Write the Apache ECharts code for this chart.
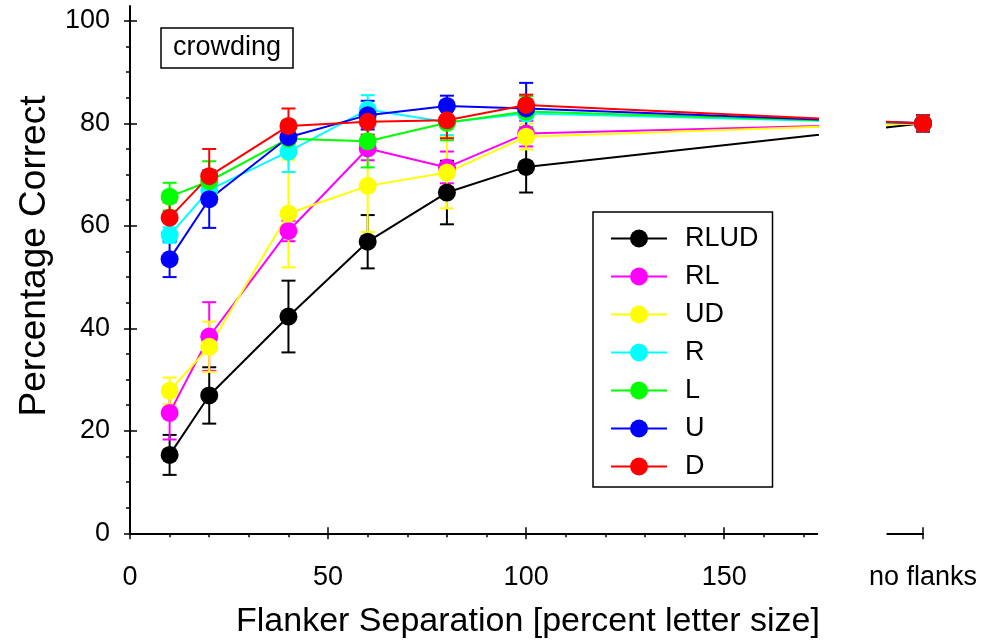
<!DOCTYPE html>
<html>
<head>
<meta charset="utf-8">
<script src="https://cdn.jsdelivr.net/npm/echarts@6/dist/echarts.min.js"></script>
<style>
  html, body { margin: 0; padding: 0; background: #fff; }
  #chart { width: 986px; height: 643px; }
</style>
</head>
<body>
<div id="chart"></div>
<script>
// Flanker separations (percent of letter size); 200 stands for the "no flanks" condition
const separations = [10, 20, 40, 60, 80, 100, 200];

// Percentage correct and error bar half-lengths per flanker configuration
const rlud    = [15.3, 26.9, 42.3, 56.9, 66.5, 71.5, 80.0];
const rludErr = [3.9, 5.5, 7.0, 5.2, 6.2, 5.0, 1.6];
const rl      = [23.5, 38.4, 59.0, 75.1, 71.4, 78.0, 80.0];
const rlErr   = [5.2, 6.7, 2.0, 2.3, 3.1, 2.5, 1.6];
const ud      = [27.8, 36.4, 62.4, 67.8, 70.4, 77.4, 80.0];
const udErr   = [2.6, 4.9, 10.5, 9.0, 7.0, 2.5, 1.6];
const rOnly   = [58.2, 67.0, 74.5, 82.7, 80.2, 81.9, 80.0];
const rErr    = [1.5, 2.5, 4.0, 2.8, 2.5, 3.6, 1.6];
const lOnly   = [65.7, 68.7, 77.0, 76.5, 80.1, 82.3, 80.0];
const lErr    = [2.7, 3.9, 3.0, 5.1, 3.4, 3.0, 1.6];
const uOnly   = [53.5, 65.2, 77.3, 81.6, 83.4, 82.9, 80.0];
const uErr    = [3.5, 5.6, 3.1, 2.8, 2.0, 5.0, 1.6];
const dOnly   = [61.6, 69.7, 79.5, 80.3, 80.6, 83.6, 80.0];
const dErr    = [3.0, 5.3, 3.4, 2.5, 3.5, 2.0, 1.6];

// Axis ticks and labels
const xMajorTicks = [0, 50, 100, 150];
const xMinorTicks = [10, 20, 30, 40, 60, 70, 80, 90, 110, 120, 130, 140, 160, 170];
const yMajorTicks = [0, 20, 40, 60, 80, 100];
const yMinorTicks = [5, 10, 15, 25, 30, 35, 45, 50, 55, 65, 70, 75, 85, 90, 95];
const noFlanksTick = [200];
const noFlanksLabel = 'no flanks';
const xTitle = 'Flanker Separation [percent letter size]';
const yTitle = 'Percentage Correct';
const panelLabel = 'crowding';

const conditions = [
  { name: 'RLUD', color: '#000000', values: rlud,  errors: rludErr },
  { name: 'RL',   color: '#ff00ff', values: rl,    errors: rlErr },
  { name: 'UD',   color: '#ffff00', values: ud,    errors: udErr },
  { name: 'R',    color: '#00ffff', values: rOnly, errors: rErr },
  { name: 'L',    color: '#00ff00', values: lOnly, errors: lErr },
  { name: 'U',    color: '#0000ff', values: uOnly, errors: uErr },
  { name: 'D',    color: '#ff0000', values: dOnly, errors: dErr }
];

const FONT = '"Liberation Sans", Arial, Helvetica, sans-serif';
const MAIN_MAX = 173.5;   // right end of the continuous part of the x axis
const BREAK_MIN = 191;    // left end of the short "no flanks" segment
const Y_MAX = 102.9;

const chart = echarts.init(document.getElementById('chart'), null, { renderer: 'canvas' });

function errorBars(color, lo, hi) {
  return function (params, api) {
    const x = api.value(0);
    if (x < lo || x > hi) return null;
    const y = api.value(1);
    const e = api.value(2);
    const top = api.coord([x, y + e]);
    const bot = api.coord([x, y - e]);
    const half = 7;
    const style = { stroke: color, lineWidth: 2 };
    return {
      type: 'group',
      children: [
        { type: 'line', shape: { x1: top[0], y1: top[1], x2: bot[0], y2: bot[1] }, style: style },
        { type: 'line', shape: { x1: top[0] - half, y1: top[1], x2: top[0] + half, y2: top[1] }, style: style },
        { type: 'line', shape: { x1: bot[0] - half, y1: bot[1], x2: bot[0] + half, y2: bot[1] }, style: style }
      ]
    };
  };
}

const series = [];
// error bars underneath all lines and markers
conditions.forEach(function (c) {
  const data = separations.map(function (s, i) { return [s, c.values[i], c.errors[i]]; });
  series.push({
    type: 'custom', name: c.name + ' error', xAxisIndex: 0, yAxisIndex: 0, z: 1,
    renderItem: errorBars(c.color, 0, MAIN_MAX), data: data, silent: true
  });
  series.push({
    type: 'custom', name: c.name + ' error', xAxisIndex: 3, yAxisIndex: 3, z: 1,
    renderItem: errorBars(c.color, BREAK_MIN, 200), data: data, silent: true
  });
});
// lines with filled circle markers, drawn on both parts of the broken axis
conditions.forEach(function (c) {
  const data = separations.map(function (s, i) { return [s, c.values[i]]; });
  [[0, 0], [3, 3]].forEach(function (ax) {
    series.push({
      type: 'line', name: c.name, xAxisIndex: ax[0], yAxisIndex: ax[1], z: 2,
      data: data, clip: true,
      symbol: 'circle', symbolSize: 18, showSymbol: true,
      lineStyle: { color: c.color, width: 2 },
      itemStyle: { color: c.color },
      emphasis: { disabled: true }
    });
  });
});

const axisLineStyle = { color: '#000', width: 2 };
const tickStyle = { color: '#000', width: 1.5 };

const option = {
  animation: false,
  backgroundColor: '#fff',
  title: {
    text: panelLabel,
    left: 161, top: 28,
    padding: [6, 12, 7, 12],
    borderColor: '#000', borderWidth: 1.5,
    textStyle: { fontFamily: FONT, fontSize: 27, fontWeight: 'normal', color: '#000', lineHeight: 27 }
  },
  legend: {
    orient: 'vertical',
    left: 593, top: 212,
    padding: [13, 14, 7, 17],
    itemWidth: 56, itemHeight: 22.5, itemGap: 11,
    borderColor: '#000', borderWidth: 1.5,
    data: conditions.map(function (c) { return c.name; }),
    textStyle: { fontFamily: FONT, fontSize: 27, color: '#000', padding: [0, 0, 0, 13] },
    selectedMode: false
  },
  grid: [
    { left: 130, top: 6, width: 687.3, height: 527.3, containLabel: false },
    { left: 887.3, top: 6, width: 35.7, height: 527.3, containLabel: false }
  ],
  xAxis: [
    { // main x axis with labels and outward major ticks
      type: 'value', gridIndex: 0, min: 0, max: MAIN_MAX, position: 'bottom',
      axisLine: { show: true, onZero: false, lineStyle: axisLineStyle },
      axisTick: { show: true, inside: false, length: 6, customValues: xMajorTicks, lineStyle: tickStyle },
      axisLabel: { show: true, customValues: xMajorTicks, margin: 31, fontFamily: FONT, fontSize: 27, color: '#000' },
      splitLine: { show: false }
    },
    { // inward half of the major ticks
      type: 'value', gridIndex: 0, min: 0, max: MAIN_MAX, position: 'bottom',
      axisLine: { show: false, onZero: false },
      axisTick: { show: true, inside: true, length: 6, customValues: xMajorTicks, lineStyle: tickStyle },
      axisLabel: { show: false }, splitLine: { show: false }
    },
    { // minor ticks
      type: 'value', gridIndex: 0, min: 0, max: MAIN_MAX, position: 'bottom',
      axisLine: { show: false, onZero: false },
      axisTick: { show: true, inside: false, length: 4, customValues: xMinorTicks, lineStyle: tickStyle },
      axisLabel: { show: false }, splitLine: { show: false }
    },
    { // short "no flanks" segment
      type: 'value', gridIndex: 1, min: BREAK_MIN, max: 200, position: 'bottom',
      axisLine: { show: true, onZero: false, lineStyle: axisLineStyle },
      axisTick: { show: true, inside: false, length: 6, customValues: noFlanksTick, lineStyle: tickStyle },
      axisLabel: { show: true, customValues: noFlanksTick, margin: 31, fontFamily: FONT, fontSize: 27, color: '#000',
                   formatter: function () { return noFlanksLabel; } },
      splitLine: { show: false }
    },
    {
      type: 'value', gridIndex: 1, min: BREAK_MIN, max: 200, position: 'bottom',
      axisLine: { show: false, onZero: false },
      axisTick: { show: true, inside: true, length: 6, customValues: noFlanksTick, lineStyle: tickStyle },
      axisLabel: { show: false }, splitLine: { show: false }
    }
  ],
  yAxis: [
    {
      type: 'value', gridIndex: 0, min: 0, max: Y_MAX, position: 'left',
      axisLine: { show: true, onZero: false, lineStyle: axisLineStyle },
      axisTick: { show: true, inside: false, length: 6, customValues: yMajorTicks, lineStyle: tickStyle },
      axisLabel: { show: true, customValues: yMajorTicks, margin: 20, fontFamily: FONT, fontSize: 27, color: '#000' },
      splitLine: { show: false }
    },
    {
      type: 'value', gridIndex: 0, min: 0, max: Y_MAX, position: 'left',
      axisLine: { show: false, onZero: false },
      axisTick: { show: true, inside: true, length: 7, customValues: yMajorTicks, lineStyle: tickStyle },
      axisLabel: { show: false }, splitLine: { show: false }
    },
    {
      type: 'value', gridIndex: 0, min: 0, max: Y_MAX, position: 'left',
      axisLine: { show: false, onZero: false },
      axisTick: { show: true, inside: false, length: 4, customValues: yMinorTicks, lineStyle: tickStyle },
      axisLabel: { show: false }, splitLine: { show: false }
    },
    {
      type: 'value', gridIndex: 1, min: 0, max: Y_MAX, show: false
    }
  ],
  graphic: [
    {
      type: 'text', x: 35, y: 256, rotation: Math.PI / 2,
      style: { text: yTitle, font: '37px ' + FONT, fill: '#000', textAlign: 'center', textVerticalAlign: 'middle' }
    },
    {
      type: 'text', x: 528, y: 622,
      style: { text: xTitle, font: '34px ' + FONT, fill: '#000', textAlign: 'center', textVerticalAlign: 'middle' }
    }
  ],
  series: series
};

chart.setOption(option);
</script>
</body>
</html>
